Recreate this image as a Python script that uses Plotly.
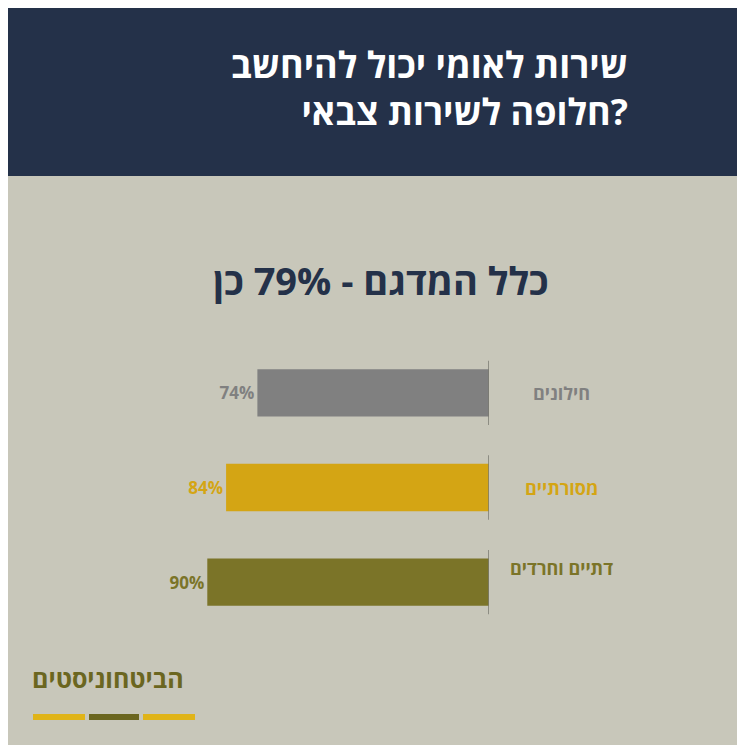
import plotly.graph_objects as go

title = "שירות לאומי יכול להיחשב<br>חלופה לשירות צבאי?"
subtitle = "כלל המדגם - 79% כן"
groups = ["חילונים", "מסורתיים", "דתיים וחרדים"]
values = [74, 84, 90]
colors = ["#808080", "#d4a514", "#7b7428"]
logo = "הביטחוניסטים"

W = 745
fig = go.Figure()
fig.add_trace(go.Bar(
    y=groups, x=values, orientation="h", width=0.5,
    marker=dict(color=colors, line=dict(width=0)),
    text=[f"<b>{v}%</b>" for v in values], textposition="outside",
    textfont=dict(family="Open Sans", size=17, color=colors),
    cliponaxis=False, hoverinfo="skip",
))

# category labels to the right of the baseline
label_y = [385, 480, 574]
for i, (g, c) in enumerate(zip(groups, colors)):
    fig.add_annotation(x=553 / W, y=1 - label_y[i] / W, xref="paper", yref="paper",
                       text=f"<b>{g}</b>", xanchor="center", showarrow=False,
                       font=dict(family="Open Sans", size=18, color=c))
    fig.add_shape(type="line", xref="x", yref="y", x0=0, x1=0,
                  y0=i - 0.34, y1=i + 0.34,
                  line=dict(color="#7a7a70", width=1.5))

# header
fig.add_shape(type="rect", xref="paper", yref="paper", x0=0, x1=1,
              y0=1 - 168 / W, y1=1, fillcolor="#243149", line_width=0, layer="below")
fig.add_annotation(x=622 / W, y=1 - 80 / W, xref="paper", yref="paper",
                   text=f"<b>{title}</b>", xanchor="right", yanchor="middle",
                   align="right", showarrow=False,
                   font=dict(family="Open Sans", size=36, color="white"))
fig.add_annotation(x=0.5, y=1 - 272 / W, xref="paper", yref="paper",
                   text=f"<b>{subtitle}</b>", showarrow=False,
                   font=dict(family="Open Sans", size=38, color="#243149"))

# logo
fig.add_annotation(x=22 / W, y=1 - 689 / W, xref="paper", yref="paper",
                   text=f"<b>{logo}</b>", xanchor="left", showarrow=False,
                   font=dict(family="Open Sans", size=25, color="#6b6620"))
for x0, x1, c in [(25, 77, "#e0b419"), (81, 131, "#6b6620"), (135, 187, "#e0b419")]:
    fig.add_shape(type="rect", xref="paper", yref="paper", x0=x0 / W, x1=x1 / W,
                  y0=1 - 712 / W, y1=1 - 706 / W, fillcolor=c, line_width=0)

fig.update_layout(
    width=W, height=W, margin=dict(l=0, r=0, t=0, b=0),
    paper_bgcolor="#c8c7ba", plot_bgcolor="rgba(0,0,0,0)", showlegend=False,
    xaxis=dict(range=[100, 0], domain=[168 / W, 481 / W], visible=False, fixedrange=True),
    yaxis=dict(autorange="reversed", domain=[123.5 / W, 407.5 / W], visible=False),
)
fig.write_html("out.html")
